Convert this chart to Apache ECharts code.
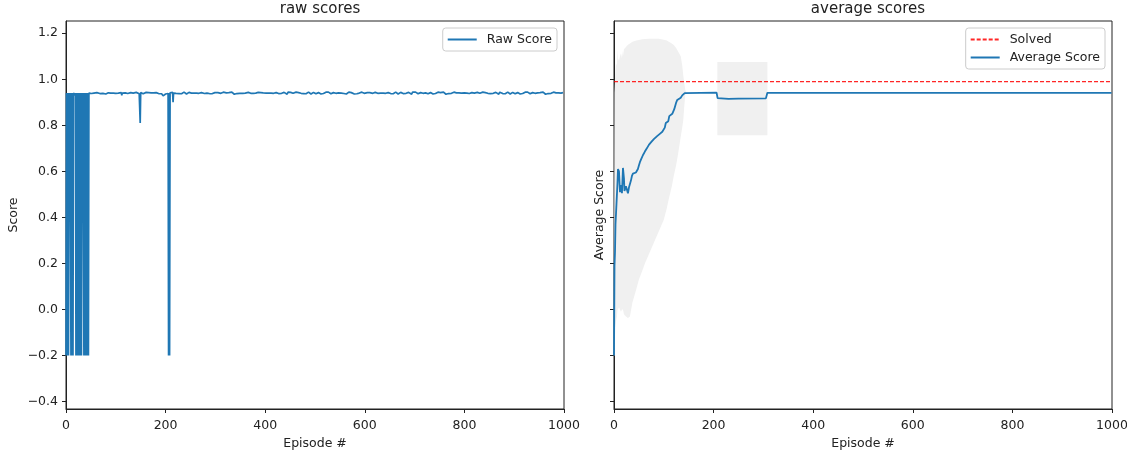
<!DOCTYPE html>
<html>
<head>
<meta charset="utf-8">
<script src="https://cdn.jsdelivr.net/npm/echarts@6/dist/echarts.min.js"></script>
<style>
  html, body { margin: 0; padding: 0; background: #fff; }
  #chart { width: 1127px; height: 452px; }
</style>
</head>
<body>
<div id="chart"></div>
<script>
// Score per episode (index = episode number)
const rawScores = [
  -0.2,0.94,-0.2,0.94,0.94, -0.2,0.94,0.77,0.94,0.94,
  -0.2,0.94,-0.2,0.94,-0.2, 0.94,0.94,0.94,0.93,0.94,
  -0.2,0.94,-0.2,0.94,-0.2, 0.94,-0.2,0.94,-0.2,0.94,
  0.94,-0.2,0.94,0.93,0.94, 0.94,-0.2,0.94,-0.2,0.94,
  0.94,-0.2,0.94,-0.2,0.94, -0.2,0.94,0.94,0.938,0.941,
  0.941,0.938,0.942,0.940,0.936, 0.943,0.940,0.939,0.944,0.937, 0.941,0.940,0.942,0.935,0.940, 0.943,0.939,0.941,0.938,0.944, 0.940,0.937,0.942,0.940,0.939,
  0.940,0.943,0.938,0.941,0.940, 0.936,0.942,0.940,0.939,0.944, 0.941,0.938,0.940,0.943,0.937, 0.940,0.942,0.939,0.941,0.935, 0.940,0.944,0.938,0.941,0.940,
  0.939,0.942,0.940,0.937,0.943, 0.940,0.941,0.938,0.944,0.940, 0.939,0.942,0.930,0.940,0.941, 0.937,0.943,0.940,0.939,0.941, 0.936,0.942,0.940,0.944,0.938,
  0.941,0.940,0.943,0.939,0.937, 0.942,0.940,0.941,0.938,0.944, 0.940,0.939,0.942,0.936,0.941, 0.940,0.943,0.938,0.940,0.942, 0.939,0.941,0.937,0.940,0.810,
  0.942,0.939,0.941,0.940,0.944, 0.937,0.940,0.942,0.938,0.941, 0.940,0.943,0.939,0.936,0.941, 0.940,0.942,0.938,0.944,0.940, 0.939,0.941,0.937,0.942,0.940,
  0.938,0.941,0.940,0.943,0.939, 0.940,0.942,0.936,0.941,0.940, 0.944,0.938,0.940,0.941,0.939, 0.942,0.940,0.937,0.941,0.932, 0.928,0.930,0.928,0.925,0.930,
  0.936,0.940,0.942,0.939,0.941, 0.938,-0.200,0.940,-0.200,0.941, 0.939,0.942,0.940,0.937,0.943, 0.900,0.940,0.941,0.938,0.942, 0.940,0.939,0.944,0.940,0.941,
  0.940,0.942,0.938,0.941,0.939, 0.943,0.940,0.937,0.941,0.940, 0.942,0.939,0.944,0.940,0.938, 0.941,0.940,0.936,0.942,0.940, 0.939,0.941,0.943,0.938,0.940,
  0.941,0.939,0.940,0.944,0.937, 0.940,0.942,0.940,0.939,0.941, 0.938,0.943,0.940,0.941,0.936, 0.942,0.940,0.939,0.941,0.944, 0.940,0.938,0.942,0.940,0.939,
  0.940,0.943,0.941,0.938,0.940, 0.942,0.939,0.941,0.940,0.935, 0.942,0.940,0.944,0.938,0.941, 0.940,0.939,0.942,0.937,0.941, 0.940,0.943,0.939,0.940,0.942,
  0.939,0.941,0.944,0.940,0.938, 0.942,0.940,0.937,0.943,0.940, 0.941,0.939,0.942,0.940,0.936, 0.941,0.944,0.939,0.940,0.942, 0.938,0.940,0.941,0.943,0.939,
  0.941,0.938,0.942,0.940,0.936, 0.943,0.940,0.939,0.944,0.937, 0.941,0.940,0.942,0.935,0.940, 0.943,0.939,0.941,0.938,0.944, 0.940,0.937,0.942,0.940,0.939,
  0.942,0.940,0.937,0.941,0.943, 0.939,0.940,0.942,0.938,0.944, 0.940,0.941,0.936,0.942,0.939, 0.940,0.943,0.938,0.941,0.940, 0.942,0.939,0.944,0.937,0.940,
  0.942,0.939,0.941,0.940,0.944, 0.937,0.940,0.942,0.938,0.941, 0.940,0.943,0.939,0.936,0.941, 0.940,0.942,0.938,0.944,0.940, 0.939,0.941,0.937,0.942,0.940,
  0.941,0.939,0.940,0.944,0.937, 0.940,0.942,0.940,0.939,0.941, 0.938,0.943,0.940,0.941,0.936, 0.942,0.940,0.939,0.941,0.944, 0.940,0.938,0.942,0.940,0.939,
  0.940,0.943,0.938,0.941,0.940, 0.936,0.942,0.940,0.939,0.944, 0.941,0.938,0.940,0.943,0.937, 0.940,0.942,0.939,0.941,0.935, 0.940,0.944,0.938,0.941,0.940,
  0.940,0.943,0.941,0.938,0.940, 0.942,0.939,0.941,0.940,0.935, 0.942,0.940,0.944,0.938,0.941, 0.940,0.939,0.942,0.937,0.941, 0.940,0.943,0.939,0.940,0.942,
  0.940,0.942,0.938,0.941,0.939, 0.943,0.940,0.937,0.941,0.940, 0.942,0.939,0.944,0.940,0.938, 0.941,0.940,0.936,0.942,0.940, 0.939,0.941,0.943,0.938,0.940,
  0.942,0.940,0.937,0.941,0.943, 0.939,0.940,0.942,0.938,0.944, 0.940,0.941,0.936,0.942,0.939, 0.940,0.943,0.938,0.941,0.940, 0.942,0.939,0.944,0.937,0.940,
  0.939,0.941,0.944,0.940,0.938, 0.942,0.940,0.937,0.943,0.940, 0.941,0.939,0.942,0.940,0.936, 0.941,0.944,0.939,0.940,0.942, 0.938,0.940,0.941,0.943,0.939,
  0.942,0.939,0.941,0.940,0.944, 0.937,0.940,0.942,0.938,0.941, 0.940,0.943,0.939,0.936,0.941, 0.940,0.942,0.938,0.944,0.940, 0.939,0.941,0.937,0.942,0.940,
  0.941,0.938,0.942,0.940,0.936, 0.943,0.940,0.939,0.944,0.937, 0.941,0.940,0.942,0.935,0.940, 0.943,0.939,0.941,0.938,0.944, 0.940,0.937,0.942,0.940,0.939,
  0.940,0.943,0.941,0.938,0.940, 0.942,0.939,0.941,0.940,0.935, 0.942,0.940,0.944,0.938,0.941, 0.940,0.939,0.942,0.937,0.941, 0.940,0.943,0.939,0.940,0.942,
  0.941,0.939,0.940,0.944,0.937, 0.940,0.942,0.940,0.939,0.941, 0.938,0.943,0.940,0.941,0.936, 0.942,0.940,0.939,0.941,0.944, 0.940,0.938,0.942,0.940,0.939,
  0.940,0.942,0.938,0.941,0.939, 0.943,0.940,0.937,0.941,0.940, 0.942,0.939,0.944,0.940,0.938, 0.941,0.940,0.936,0.942,0.940, 0.939,0.941,0.943,0.938,0.940,
  0.940,0.943,0.938,0.941,0.940, 0.936,0.942,0.940,0.939,0.944, 0.941,0.938,0.940,0.943,0.937, 0.940,0.942,0.939,0.941,0.935, 0.940,0.944,0.938,0.941,0.940,
  0.939,0.941,0.944,0.940,0.938, 0.942,0.940,0.937,0.943,0.940, 0.941,0.939,0.942,0.940,0.936, 0.941,0.944,0.939,0.940,0.942, 0.938,0.940,0.941,0.943,0.939,
  0.942,0.940,0.937,0.941,0.943, 0.939,0.940,0.942,0.938,0.944, 0.940,0.941,0.936,0.942,0.939, 0.940,0.943,0.938,0.941,0.940, 0.942,0.939,0.944,0.937,0.940,
  0.941,0.938,0.942,0.940,0.936, 0.943,0.940,0.939,0.944,0.937, 0.941,0.940,0.942,0.935,0.940, 0.943,0.939,0.941,0.938,0.944, 0.940,0.937,0.942,0.940,0.939,
  0.942,0.939,0.941,0.940,0.944, 0.937,0.940,0.942,0.938,0.941, 0.940,0.943,0.939,0.936,0.941, 0.940,0.942,0.938,0.944,0.940, 0.939,0.941,0.937,0.942,0.940,
  0.941,0.939,0.940,0.944,0.937, 0.940,0.942,0.940,0.939,0.941, 0.938,0.943,0.940,0.941,0.936, 0.942,0.940,0.939,0.941,0.944, 0.940,0.938,0.942,0.940,0.939,
  0.940,0.943,0.941,0.938,0.940, 0.942,0.939,0.941,0.940,0.935, 0.942,0.940,0.944,0.938,0.941, 0.940,0.939,0.942,0.937,0.941, 0.940,0.943,0.939,0.940,0.942,
  0.940,0.943,0.938,0.941,0.940, 0.936,0.942,0.940,0.939,0.944, 0.941,0.938,0.940,0.943,0.937, 0.940,0.942,0.939,0.941,0.935, 0.940,0.944,0.938,0.941,0.940,
  0.940,0.942,0.938,0.941,0.939, 0.943,0.940,0.937,0.941,0.940, 0.942,0.939,0.944,0.940,0.938, 0.941,0.940,0.936,0.942,0.940, 0.939,0.941,0.943,0.938,0.940,
  0.942,0.940,0.937,0.941,0.943, 0.939,0.940,0.942,0.938,0.944, 0.940,0.941,0.936,0.942,0.939, 0.940,0.943,0.938,0.941,0.940, 0.942,0.939,0.944,0.937,0.940,
  0.939,0.941,0.944,0.940,0.938, 0.942,0.940,0.937,0.943,0.940, 0.941,0.939,0.942,0.940,0.936, 0.941,0.944,0.939,0.940,0.942, 0.938,0.940,0.941,0.943,0.939,
  0.941,0.938,0.942,0.940,0.936, 0.943,0.940,0.939,0.944,0.937, 0.941,0.940,0.942,0.935,0.940, 0.943,0.939,0.941,0.938,0.944, 0.940,0.937,0.942,0.940,0.939,
  0.942,0.939,0.941,0.940,0.944, 0.937,0.940,0.942,0.938,0.941, 0.940,0.943,0.939,0.936,0.941, 0.940,0.942,0.938,0.944,0.940, 0.939,0.941,0.937,0.942,0.940
];

// Running average score
const avgEpisodes = [0,1,2,3,5,7,8,9,10,12,13,14,15,16,17,18,19,20,21,22,24,26,28,30,32,34,36,38,40,42,44,46,48,50,52,55,58,62,66,70,75,80,86,92,97,100,102,104,106,109,111,113,117,119,121,123,125,127,131,134,137,139,142,145,206,208,230,250,305,308,999];
const avgScores   = [-0.2,0.19,0.25,0.37,0.46,0.55,0.61,0.615,0.6,0.51,0.505,0.54,0.52,0.505,0.56,0.615,0.62,0.57,0.515,0.51,0.535,0.52,0.505,0.53,0.535,0.56,0.58,0.59,0.59,0.585,0.595,0.6,0.61,0.625,0.64,0.655,0.67,0.686,0.7,0.715,0.728,0.74,0.752,0.763,0.772,0.78,0.79,0.81,0.816,0.818,0.84,0.848,0.85,0.853,0.87,0.875,0.9,0.91,0.918,0.92,0.93,0.935,0.94,0.942,0.942,0.918,0.915,0.916,0.917,0.941,0.941];

// Spread (mean ± std) around the running average
const bandEarlyEpisodes = [0,1,2,4,6,7,8,10,12,14,16,17,18,20,24,28,32,37,45,50,57,62,70,80,90,100,106,110,116,120,125,129,134,137,139,141,143,145];
const bandEarlyUpper    = [-0.2,0.94,1.0,1.07,1.06,1.127,1.09,1.08,1.1,1.113,1.09,1.125,1.1,1.13,1.14,1.15,1.155,1.163,1.168,1.17,1.174,1.175,1.176,1.176,1.176,1.172,1.168,1.163,1.155,1.149,1.135,1.12,1.1,1.06,1.02,0.985,0.955,0.945];
const bandEarlyLower    = [-0.2,-0.2,-0.08,-0.05,-0.03,0.0,0.0,0.01,0.0,-0.01,0.0,0.0,0.0,-0.02,-0.03,-0.037,-0.03,0.03,0.09,0.13,0.17,0.2,0.24,0.29,0.34,0.39,0.44,0.48,0.534,0.58,0.63,0.68,0.75,0.79,0.82,0.88,0.93,0.94];
const bandMidEpisodes = [207.5,308];
const bandMidUpper    = [1.075,1.075];
const bandMidLower    = [0.757,0.757];

const solvedScore = 0.99;
const xTicks = [0,200,400,600,800,1000];
const yTicks = [-0.4,-0.2,0.0,0.2,0.4,0.6,0.8,1.0,1.2];

const FONT = 'DejaVu Sans';
const INK = '#222';
const BLUE = '#1f77b4';
const RED = '#ff0000';

const bands = [
  { ep: bandEarlyEpisodes, up: bandEarlyUpper, lo: bandEarlyLower },
  { ep: bandMidEpisodes, up: bandMidUpper, lo: bandMidLower }
];

const chart = echarts.init(document.getElementById('chart'), null, { renderer: 'canvas' });

function xAxisFor(idx) {
  return {
    type: 'value', gridIndex: idx, min: xTicks[0], max: xTicks[xTicks.length - 1], interval: 200,
    axisLine: { show: true, onZero: false, lineStyle: { color: INK, width: 1 } },
    axisTick: { show: true, length: 4, lineStyle: { color: INK, width: 1 } },
    axisLabel: { color: INK, fontFamily: FONT, fontSize: 12.5, margin: 10, formatter: v => String(v) },
    splitLine: { show: false },
    name: 'Episode #', nameLocation: 'middle', nameGap: 26,
    nameTextStyle: { color: INK, fontFamily: FONT, fontSize: 12.5 }
  };
}
function yAxisFor(idx, name, showLabels, gap) {
  return {
    type: 'value', gridIndex: idx, min: -0.432, max: 1.253,
    axisLine: { show: true, onZero: false, lineStyle: { color: INK, width: 1 } },
    axisTick: { show: true, length: 4, customValues: yTicks, lineStyle: { color: INK, width: 1 } },
    axisLabel: {
      show: showLabels, customValues: yTicks, color: INK, fontFamily: FONT, fontSize: 12.5, margin: 8,
      formatter: v => v.toFixed(1).replace('-', '\u2212')
    },
    splitLine: { show: false },
    name: name, nameLocation: 'middle', nameGap: gap,
    nameTextStyle: { color: INK, fontFamily: FONT, fontSize: 12.5 }
  };
}
const legendBase = {
  orient: 'vertical', top: 28, padding: [5, 5, 5, 4], itemWidth: 29, itemHeight: 14, itemGap: 5,
  backgroundColor: 'rgba(255,255,255,0.8)', borderColor: '#cccccc', borderWidth: 1, borderRadius: 3,
  itemStyle: { opacity: 0 },
  textStyle: { color: INK, fontFamily: FONT, fontSize: 12.5, padding: [0, 0, 0, 5] }
};

chart.setOption({
  animation: false,
  backgroundColor: '#fff',
  title: [
    { text: 'raw scores', left: 315, top: -3, textAlign: 'center',
      textStyle: { color: INK, fontFamily: FONT, fontSize: 15, fontWeight: 'normal' } },
    { text: 'average scores', left: 863, top: -3, textAlign: 'center',
      textStyle: { color: INK, fontFamily: FONT, fontSize: 15, fontWeight: 'normal' } }
  ],
  grid: [
    { left: 66, width: 498, top: 21, height: 388, outerBoundsMode: 'none', show: true, borderColor: INK, borderWidth: 1, backgroundColor: 'transparent' },
    { left: 614, width: 498, top: 21, height: 388, outerBoundsMode: 'none', show: true, borderColor: INK, borderWidth: 1, backgroundColor: 'transparent' }
  ],
  xAxis: [xAxisFor(0), xAxisFor(1)],
  yAxis: [yAxisFor(0, 'Score', true, 46), yAxisFor(1, 'Average Score', false, 8)],
  legend: [
    Object.assign({}, legendBase, { right: 570, data: ['Raw Score'] }),
    Object.assign({}, legendBase, { right: 22, data: ['Solved', 'Average Score'] })
  ],
  series: [
    {
      name: 'Raw Score', type: 'line', xAxisIndex: 0, yAxisIndex: 0,
      data: rawScores.map((v, i) => [i, v]),
      symbol: 'none', showSymbol: false,
      lineStyle: { color: BLUE, width: 1.7 }, itemStyle: { color: BLUE }
    },
    {
      name: 'spread', type: 'custom', xAxisIndex: 1, yAxisIndex: 1, silent: true, z: 1,
      data: bands.map(b => [b.ep[0], b.lo[0]]),
      renderItem: (params, api) => {
        const b = bands[params.dataIndex];
        const pts = [];
        for (let i = 0; i < b.ep.length; i++) pts.push(api.coord([b.ep[i], b.up[i]]));
        for (let i = b.ep.length - 1; i >= 0; i--) pts.push(api.coord([b.ep[i], b.lo[i]]));
        return { type: 'polygon', shape: { points: pts }, style: { fill: '#f0f0f0', stroke: null } };
      }
    },
    {
      name: 'Solved', type: 'line', xAxisIndex: 1, yAxisIndex: 1, z: 3,
      data: [[xTicks[0], solvedScore], [xTicks[xTicks.length - 1], solvedScore]],
      symbol: 'none', showSymbol: false,
      lineStyle: { color: RED, width: 1.2, type: [4, 2], opacity: 0.85 }, itemStyle: { color: RED }
    },
    {
      name: 'Average Score', type: 'line', xAxisIndex: 1, yAxisIndex: 1, z: 4,
      data: avgEpisodes.map((e, i) => [e, avgScores[i]]),
      symbol: 'none', showSymbol: false,
      lineStyle: { color: BLUE, width: 1.8 }, itemStyle: { color: BLUE }
    }
  ]
});
</script>
</body>
</html>
